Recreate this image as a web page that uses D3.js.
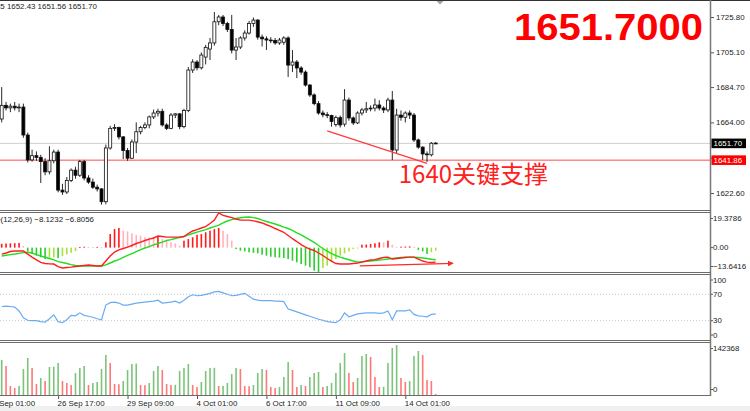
<!DOCTYPE html>
<html><head><meta charset="utf-8">
<script src="https://cdn.jsdelivr.net/npm/d3@7"></script>
<style>html,body{margin:0;padding:0;background:#fff;overflow:hidden}svg{display:block}</style>
</head><body><svg id="c" width="750" height="411"></svg>
<script>
// ---------- DATA (H4 bars, index 0..100) ----------
const opens=[1666.0,1674.0,1672.5,1673.5,1672.5,1673.0,1656.6,1642.0,1644.5,1643.5,1641.0,1635.0,1641.5,1646.6,1624.3,1623.2,1630.0,1636.0,1633.0,1641.0,1631.4,1629.0,1626.0,1625.0,1617.5,1649.0,1660.5,1661.0,1655.5,1647.5,1643.0,1652.5,1658.5,1661.0,1662.5,1667.2,1669.5,1670.5,1662.5,1660.5,1668.3,1669.0,1661.5,1671.0,1694.7,1699.4,1696.0,1702.3,1707.0,1710.6,1723.0,1725.8,1722.0,1718.5,1706.4,1708.2,1713.5,1716.4,1722.0,1724.0,1714.0,1713.0,1712.3,1712.0,1710.6,1711.0,1713.5,1697.6,1699.4,1695.9,1693.5,1685.9,1680.1,1675.0,1669.5,1668.5,1668.0,1662.8,1666.8,1663.0,1677.1,1666.6,1663.7,1669.5,1671.3,1672.0,1672.4,1674.2,1672.4,1671.3,1677.1,1647.8,1668.3,1667.0,1669.5,1668.3,1653.7,1649.5,1645.5,1645.0,1651.85];
const highs=[1684.7,1676.0,1675.0,1676.0,1675.0,1675.0,1658.0,1648.0,1647.0,1645.0,1643.0,1650.0,1648.0,1648.0,1628.0,1632.0,1637.0,1638.0,1642.0,1642.0,1633.0,1631.0,1627.5,1625.5,1651.0,1662.0,1663.0,1661.5,1656.0,1649.0,1654.0,1664.0,1662.0,1664.0,1668.0,1671.5,1672.0,1672.0,1663.5,1669.5,1669.5,1669.5,1672.0,1696.5,1701.0,1700.5,1705.0,1709.5,1713.5,1728.7,1727.0,1727.0,1723.0,1727.0,1713.5,1714.5,1718.0,1723.5,1725.5,1724.5,1715.5,1714.5,1714.0,1713.5,1713.5,1714.5,1714.5,1706.4,1700.6,1697.0,1694.5,1686.5,1681.0,1676.5,1671.0,1670.0,1668.5,1668.0,1668.0,1683.5,1678.5,1667.5,1670.5,1672.5,1676.0,1674.0,1678.0,1677.0,1673.5,1678.5,1682.4,1672.0,1671.0,1670.5,1671.0,1669.5,1654.5,1650.0,1647.0,1652.5,1652.43];
const lows=[1664.0,1671.0,1670.0,1671.0,1670.0,1655.0,1640.5,1641.0,1641.5,1628.5,1633.0,1633.5,1640.0,1623.0,1621.5,1622.0,1629.0,1631.0,1632.0,1630.0,1628.0,1625.0,1623.5,1615.8,1616.0,1648.0,1659.0,1654.0,1642.5,1641.5,1642.5,1646.0,1657.0,1660.0,1660.5,1666.0,1667.5,1661.5,1659.5,1660.0,1666.5,1660.0,1660.5,1670.0,1693.0,1694.5,1695.0,1698.0,1700.6,1709.0,1721.0,1720.5,1717.0,1704.5,1700.6,1707.0,1712.0,1715.5,1720.0,1712.5,1708.5,1706.5,1710.5,1709.5,1709.5,1709.5,1690.6,1693.5,1690.0,1692.0,1685.0,1679.0,1674.0,1668.5,1667.0,1666.5,1661.5,1661.5,1661.0,1661.5,1665.0,1662.5,1663.0,1668.0,1669.5,1670.5,1670.5,1671.0,1669.5,1670.0,1641.9,1646.0,1665.0,1664.0,1666.0,1652.5,1648.5,1642.0,1640.8,1644.0,1651.56];
const closes=[1674.0,1672.5,1673.5,1672.5,1673.0,1656.6,1642.0,1644.5,1643.5,1641.0,1635.0,1641.5,1646.6,1624.3,1623.2,1630.0,1636.0,1633.0,1641.0,1631.4,1629.0,1626.0,1625.0,1617.5,1649.0,1660.5,1661.0,1655.5,1647.5,1643.0,1652.5,1658.5,1661.0,1662.5,1667.2,1669.5,1670.5,1662.5,1660.5,1668.3,1669.0,1661.5,1671.0,1694.7,1699.4,1696.0,1703.5,1708.0,1710.6,1723.0,1725.8,1722.0,1718.5,1706.4,1708.2,1713.5,1716.4,1722.0,1724.0,1714.0,1713.0,1712.3,1712.0,1710.6,1712.3,1713.5,1697.6,1699.4,1695.9,1693.5,1685.9,1680.1,1675.0,1669.5,1668.5,1668.0,1664.5,1666.8,1662.5,1677.1,1666.6,1663.7,1669.5,1671.3,1672.0,1672.4,1674.2,1672.4,1671.3,1677.1,1647.8,1668.3,1667.0,1669.5,1668.3,1653.7,1649.5,1645.5,1645.0,1651.8,1651.70];
const volumes=[95830,79400,24640,19170,24640,71190,101300,73930,30120,46550,38330,76660,77500,87620,38330,32860,27380,60240,73930,79400,27380,32860,35590,71190,109520,87620,30120,29500,38330,68450,84880,86000,27380,27000,32860,65710,79400,68450,30120,27380,27900,65710,73930,84880,27380,21900,35590,65710,73930,74500,24640,25200,32860,57500,73930,71190,24640,24000,27380,60240,71190,68450,21900,19170,21900,49280,90350,68450,21900,27380,24640,49280,60240,62970,21900,24640,32860,60240,87620,115000,60240,35590,46550,106780,112260,104040,49280,21900,22500,87620,128690,136900,46550,35590,38330,106780,120470,109520,41070,38330,3000];
const macdHist=[2.1,2.3,2.4,2.5,2.6,1.0,-2.1,-3.6,-4.5,-5.4,-6.4,-5.6,-5.4,-5.9,-4.8,-3.8,-2.9,-1.9,0.3,0.5,0.4,0.3,0.4,0.2,3.0,7.6,10.4,11.0,9.5,9.1,8.0,7.2,6.7,5.8,5.7,5.6,6.0,4.8,3.9,3.0,2.4,1.1,3.9,4.8,5.8,7.2,7.6,8.6,9.5,10.4,11.0,9.5,7.6,3.9,-0.8,-1.7,-2.1,-2.6,-2.9,-3.2,-4.0,-4.5,-5.1,-5.4,-5.6,-5.8,-6.4,-7.3,-8.2,-9.2,-10.1,-11.0,-12.9,-13.6416,-11.4,-10.1,-8.2,-6.4,-4.5,-3.2,-2.1,-0.8,-0.3,1.6,1.7,2.0,2.4,3.0,2.9,3.9,1.6,0.4,0.5,0.6,0.7,0.3,-1.3,-2.1,-3.6,-2.6,-1.7];
const macdMain=[-3.6,-3.0,-2.2,-1.9,-1.9,-1.9,-3.6,-5.3,-6.9,-8.3,-8.9,-9.1,-9.2,-10.6,-11.4,-11.1,-10.9,-10.6,-10.3,-10.0,-9.7,-10.0,-10.3,-10.3,-7.5,-4.7,-2.5,-1.3,-0.5,0.3,1.2,2.3,3.1,4.0,4.8,5.4,6.5,6.2,5.9,5.9,5.9,5.9,6.2,7.9,9.3,10.1,11.0,11.8,13.5,15.4,19.3786,18.0,17.4,16.8,16.0,15.4,15.4,15.4,15.0,14.5,13.8,12.8,11.9,10.7,9.6,8.6,6.8,5.0,3.4,1.7,0.3,-0.8,-1.6,-3.0,-4.4,-6.1,-7.5,-8.9,-9.2,-9.2,-9.2,-8.9,-8.6,-8.1,-7.5,-6.9,-6.7,-6.1,-5.5,-5.3,-6.4,-6.1,-5.8,-5.5,-5.3,-5.3,-6.4,-7.5,-8.1,-8.3,-8.1232];
const macdSignal=[-4.7,-4.3,-3.9,-3.6,-3.2,-2.8,-2.6,-3.0,-3.9,-4.7,-5.4,-6.1,-6.9,-7.8,-8.3,-8.9,-9.5,-10.0,-10.3,-10.3,-10.3,-10.3,-10.3,-10.3,-9.7,-8.6,-7.5,-6.7,-5.5,-4.4,-3.3,-2.2,-1.1,-0.2,0.6,1.5,2.3,3.1,4.0,4.5,5.1,5.7,6.2,7.1,7.9,8.7,9.4,10.1,11.0,11.8,12.6,13.8,14.9,15.7,16.3,16.7,17.0,17.1,16.8,16.3,15.4,14.6,13.9,13.2,12.4,11.5,10.7,9.6,8.3,7.1,5.7,4.3,2.9,1.2,-0.5,-1.9,-3.3,-4.4,-5.3,-6.1,-6.8,-7.5,-8.1,-7.9,-7.7,-7.5,-7.2,-6.9,-6.7,-6.4,-6.1,-5.8,-5.5,-5.3,-5.3,-5.4,-5.5,-5.8,-6.1,-6.5,-6.8056];
const rsi=[51.5,52.2,51.5,50.7,44.8,34.4,30.7,30.0,30.0,28.5,27.8,33.0,38.9,28.5,27.0,31.5,38.1,37.4,41.9,38.1,36.7,35.2,33.0,31.5,53.7,57.4,58.1,56.7,53.7,53.7,55.2,56.7,57.4,58.1,58.9,59.6,61.1,56.7,57.4,58.1,59.6,56.7,61.1,66.3,69.3,67.8,68.5,70.0,71.5,73.7,74.4,72.2,70.0,67.8,68.5,70.0,71.5,67.0,62.6,61.1,60.4,60.4,60.4,59.6,59.6,58.9,47.8,45.6,43.3,41.1,38.9,36.7,34.4,32.2,30.7,28.5,27.8,27.0,31.5,41.9,35.9,38.1,40.4,41.1,41.9,41.9,41.9,41.1,41.9,44.8,31.5,44.8,44.8,44.8,46.3,39.6,37.4,36.7,35.9,39.6,40.4];
const priceTicks=[1725.80,1705.10,1684.70,1664.00,1643.30,1622.60];
const dateTicks=[{i:-3,label:"22 Sep 01:00"},{i:13,label:"26 Sep 17:00"},{i:29,label:"29 Sep 09:00"},{i:45,label:"4 Oct 01:00"},{i:61,label:"6 Oct 17:00"},{i:77,label:"11 Oct 09:00"},{i:93,label:"14 Oct 01:00"}];
const macdTicks=[19.3786,0,-13.6416];
const rsiTicks=[100,70,30,0];
const rsiLevels=[70,30];
const volTicks=[142368,0];
const supportPrice=1641.86;
const trendLine=[{i:75,p:1659.0},{i:98,p:1640.0}];
const macdArrow=[{i:82.5,v:-10.2},{i:104,v:-8.8}];
const noteText="1640关键支撑";
const notePos={i:91.5,p:1642.4};

// ---------- LAYOUT ----------
const svg=d3.select("#c");
const AX=710, FONT="'Liberation Sans',Arial,sans-serif", FS=7.9;
const n=closes.length;
const x=d3.scaleLinear().domain([0,100]).range([1.7,435.7]);
const yP=d3.scaleLinear().domain([1622.6,1725.8]).range([193,17]);
const yM=d3.scaleLinear().domain([-13.6416,19.3786]).range([272,213]);
const yR=d3.scaleLinear().domain([0,100]).range([340.5,274.5]);
const yV=d3.scaleLinear().domain([0,142368]).range([395,343]);
const panes={main:[1,210],macd:[213,272],rsi:[274.5,340.5],vol:[343,395]};

const defs=svg.append("defs");
Object.entries(panes).forEach(([k,[t,b]])=>{
  defs.append("clipPath").attr("id","clip-"+k).append("rect").attr("x",0).attr("y",t).attr("width",AX).attr("height",b-t);
});
defs.append("marker").attr("id","arr").attr("viewBox","0 0 10 10").attr("refX",9).attr("refY",5)
  .attr("markerWidth",6).attr("markerHeight",6).attr("orient","auto").attr("markerUnits","userSpaceOnUse")
  .append("path").attr("d","M0,0L10,5L0,10z").attr("fill","#ff2a2a");

// bottom band
svg.append("rect").attr("x",0).attr("y",406).attr("width",750).attr("height",5).attr("fill","#f0f0f0");

// ---------- MAIN PANE ----------
const gm=svg.append("g").attr("clip-path","url(#clip-main)");
gm.append("line").attr("x1",0).attr("x2",AX).attr("y1",yP(closes[n-1])).attr("y2",yP(closes[n-1])).attr("stroke","#cfcfcf").attr("stroke-width",1);
gm.append("line").attr("x1",0).attr("x2",AX).attr("y1",yP(supportPrice)).attr("y2",yP(supportPrice)).attr("stroke","#ff4d4d").attr("stroke-width",1);
const idx=d3.range(n);
gm.selectAll(".wick").data(idx).join("line").attr("class","wick")
  .attr("x1",i=>x(i)).attr("x2",i=>x(i)).attr("y1",i=>yP(highs[i])).attr("y2",i=>yP(lows[i]))
  .attr("stroke","#111").attr("stroke-width",0.9);
gm.selectAll(".body").data(idx).join("rect").attr("class","body")
  .attr("x",i=>x(i)-1.5).attr("width",3)
  .attr("y",i=>yP(Math.max(opens[i],closes[i])))
  .attr("height",i=>Math.max(0.8,Math.abs(yP(opens[i])-yP(closes[i]))))
  .attr("fill",i=>closes[i]>=opens[i]?"#fff":"#000")
  .attr("stroke","#111").attr("stroke-width",0.8);
gm.append("line").attr("x1",x(trendLine[0].i)).attr("y1",yP(trendLine[0].p))
  .attr("x2",x(trendLine[1].i)).attr("y2",yP(trendLine[1].p)).attr("stroke","#ff3b3b").attr("stroke-width",1.2);
svg.append("text").attr("x",x(notePos.i)).attr("y",yP(notePos.p)+23.5).text(noteText)
  .attr("font-family","'Noto Sans CJK SC',sans-serif").attr("font-size",24).attr("fill","#ff2020");
svg.append("text").attr("x",514).attr("y",39.5).text(d3.format(".4f")(closes[n-1]))
  .attr("font-family",FONT).attr("font-weight","bold").attr("font-size",37).attr("fill","#ff0000")
  .attr("textLength",189).attr("lengthAdjust","spacingAndGlyphs");
// header OHLC (first value cut at the left edge)
const f2=d3.format(".2f");
const hdr=svg.append("text").attr("y",9.3).attr("font-family",FONT).attr("font-size",FS).attr("fill","#222")
  .text(`${f2(opens[n-1])} ${f2(highs[n-1])} ${f2(lows[n-1])} ${f2(closes[n-1])}`);
{const tmp=svg.append("text").attr("font-family",FONT).attr("font-size",FS).text(f2(opens[n-1]).slice(0,-1));
 const w=tmp.node().getComputedTextLength(); tmp.remove(); hdr.attr("x",-w+0.3);}
// shift marker
svg.append("path").attr("d",`M${x(100)+0.3},0.5L${x(100)+8.3},0.5L${x(100)+4.3},4.5z`).attr("fill","#a0a0a0");

// ---------- MACD PANE ----------
const gc=svg.append("g").attr("clip-path","url(#clip-macd)");
const histColor=i=>{const v=macdHist[i],p=i>0?macdHist[i-1]:v;
  if(v>=0) return v>=p?"#ff1a1a":"#ffb3bd"; return v<p?"#2ecc2e":"#a6e23a";};
gc.selectAll(".hb").data(idx).join("rect").attr("class","hb")
  .attr("x",i=>x(i)-0.8).attr("width",1.6)
  .attr("y",i=>Math.min(yM(0),yM(macdHist[i])))
  .attr("height",i=>Math.max(0.8,Math.abs(yM(macdHist[i])-yM(0))))
  .attr("fill",histColor);
const lineM=d3.line().x((d,i)=>x(i)).y(d=>yM(d));
gc.append("path").attr("d",lineM(macdSignal)).attr("fill","none").attr("stroke","#22dd22").attr("stroke-width",1.4);
gc.append("path").attr("d",lineM(macdMain)).attr("fill","none").attr("stroke","#ff1e1e").attr("stroke-width",1.4);
svg.append("line").attr("x1",x(macdArrow[0].i)).attr("y1",yM(macdArrow[0].v))
  .attr("x2",x(macdArrow[1].i)).attr("y2",yM(macdArrow[1].v))
  .attr("stroke","#ff2a2a").attr("stroke-width",1.3).attr("marker-end","url(#arr)");
const f4=d3.format(".4f");
const mh=svg.append("text").attr("y",222).attr("font-family",FONT).attr("font-size",FS).attr("fill","#222")
  .text(`MACD(12,26,9) ${f4(macdMain[n-1])} ${f4(macdSignal[n-1])}`);
{const tmp=svg.append("text").attr("font-family",FONT).attr("font-size",FS).text("MACD");
 const w=tmp.node().getComputedTextLength(); tmp.remove(); mh.attr("x",-w+0.5);}

// ---------- RSI PANE ----------
const gr=svg.append("g").attr("clip-path","url(#clip-rsi)");
rsiLevels.forEach(l=>gr.append("line").attr("x1",0).attr("x2",AX).attr("y1",yR(l)).attr("y2",yR(l))
  .attr("stroke","#c4c4c4").attr("stroke-width",1).attr("stroke-dasharray","1,2"));
gr.append("path").attr("d",d3.line().x((d,i)=>x(i)).y(d=>yR(d))(rsi)).attr("fill","none")
  .attr("stroke","#6aacf2").attr("stroke-width",1.2);

// ---------- VOLUME PANE ----------
const gv=svg.append("g").attr("clip-path","url(#clip-vol)");
gv.selectAll(".vb").data(idx).join("rect").attr("class","vb")
  .attr("x",i=>x(i)-0.8).attr("width",1.6)
  .attr("y",i=>yV(volumes[i])).attr("height",i=>yV(0)-yV(volumes[i]))
  .attr("fill",i=>(i===0||volumes[i]>volumes[i-1])?"#7cc47c":"#ff7878");

// ---------- FRAMES ----------
const sep="#6b6b6b";
svg.append("line").attr("x1",0).attr("x2",750).attr("y1",0.5).attr("y2",0.5).attr("stroke","#333").attr("stroke-width",1);
[210.5,212.5,272.5,274.5,340.5,342.5,395.5].forEach(y=>svg.append("line").attr("x1",0).attr("x2",AX+1).attr("y1",y).attr("y2",y).attr("stroke",sep).attr("stroke-width",1));
svg.append("line").attr("x1",AX+0.5).attr("x2",AX+0.5).attr("y1",0).attr("y2",396).attr("stroke","#777").attr("stroke-width",1.5);

// ---------- AXES ----------
const ax=svg.append("g").attr("transform",`translate(${AX+1},0)`)
  .call(d3.axisRight(yP).tickValues(priceTicks).tickSize(3).tickPadding(2).tickFormat(f2));
ax.select(".domain").remove();
ax.selectAll("text").attr("font-family",FONT).attr("font-size",FS).attr("fill","#222");
ax.selectAll("line").attr("stroke","#555");

function badge(val,bg){
  const yy=yP(val);
  svg.append("rect").attr("x",AX+1.5).attr("y",yy-4.8).attr("width",34.5).attr("height",9.6).attr("fill",bg);
  svg.append("text").attr("x",AX+3.5).attr("y",yy).attr("dy","0.34em").text(f2(val))
    .attr("font-family",FONT).attr("font-size",FS).attr("fill","#fff");
}
badge(closes[n-1],"#000");
badge(supportPrice,"#ff0000");

function paneLabels(ticks,scale,[t,b],fmt){
  ticks.forEach(v=>{
    const yy=Math.max(t+5.5,Math.min(b-5.5,scale(v)));
    svg.append("line").attr("x1",AX+1).attr("x2",AX+3).attr("y1",yy).attr("y2",yy).attr("stroke","#555");
    svg.append("text").attr("x",AX+3).attr("y",yy).attr("dy","0.34em").text(fmt(v))
      .attr("font-family",FONT).attr("font-size",FS).attr("fill","#222");
  });
}
paneLabels(macdTicks,yM,panes.macd,v=>v===0?"0.00":d3.format(".4f")(v));
paneLabels(rsiTicks,yR,panes.rsi,v=>String(v));
paneLabels(volTicks,yV,panes.vol,v=>String(v));

const bx=svg.append("g").attr("transform","translate(0,396)")
  .call(d3.axisBottom(x).tickValues(dateTicks.map(d=>d.i)).tickSize(3).tickPadding(1)
    .tickFormat((d,k)=>dateTicks[k].label));
bx.select(".domain").remove();
bx.selectAll("line").attr("stroke","#555");
bx.selectAll("text").attr("text-anchor","start").attr("dx",-1).attr("font-family",FONT).attr("font-size",FS).attr("fill","#222");
</script></body></html>
